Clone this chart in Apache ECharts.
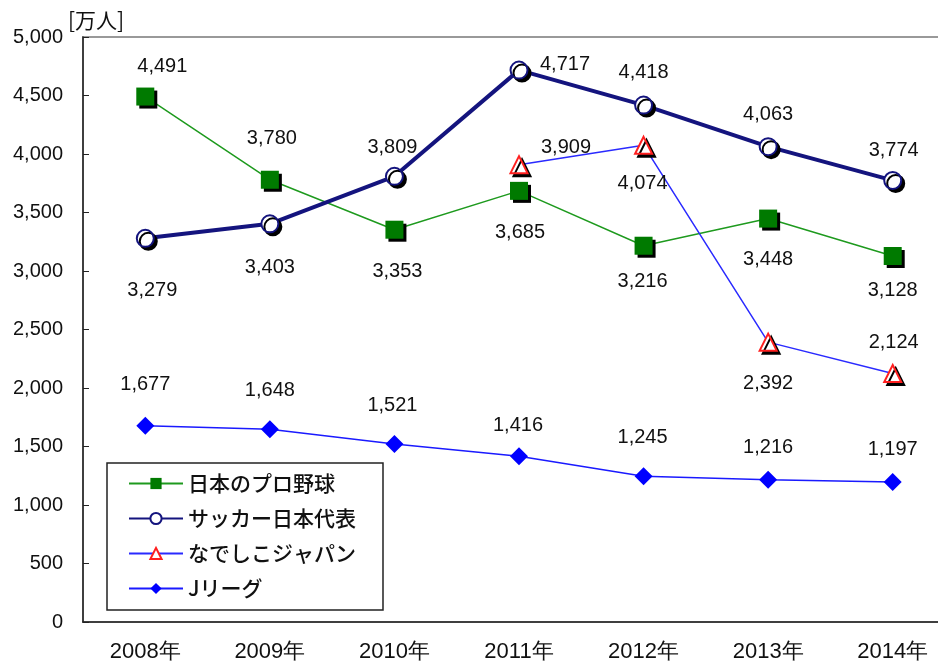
<!DOCTYPE html>
<html>
<head>
<meta charset="utf-8">
<script src="https://cdn.jsdelivr.net/npm/echarts@6/dist/echarts.min.js"></script>
<style>
  html, body { margin: 0; padding: 0; background: #fff; }
  #chart { width: 938px; height: 665px; }
</style>
</head>
<body>
<div id="chart"></div>
<script>
// 年
var years = ['2008年', '2009年', '2010年', '2011年', '2012年', '2013年', '2014年']
// 各系列の値（万人）
var baseball = [4491, 3780, 3353, 3685, 3216, 3448, 3128]
var soccerJapan = [3279, 3403, 3809, 4717, 4418, 4063, 3774]
var nadeshiko = [null, null, null, 3909, 4074, 2392, 2124]
var jleague = [1677, 1648, 1521, 1416, 1245, 1216, 1197]
var seriesNames = ['日本のプロ野球', 'サッカー日本代表', 'なでしこジャパン', 'Jリーグ']

// ラベルのずれ [dx, dy]
var baseballOff = [[17, -30], [2, -41], [3, 42], [1, 42], [-1, 36], [0, 41], [0, 34]]
var soccerOff = [[7, 52], [0, 44], [-2, -29], [46, -6], [0, -33], [0, -32], [1, -30]]
var nadeshikoOff = [null, null, null, [47, -17], [-1, 38], [0, 41], [1, -31]]
var jleagueOff = [[0, -41], [0, -39], [-2, -39], [-1, -31], [-1, -39], [0, -32], [0, -32]]

var chart = echarts.init(document.getElementById('chart'))

function fmt(v) {
  return String(v).replace(/\B(?=(\d{3})+(?!\d))/g, ',')
}

function withLabels(values, offs) {
  return values.map(function (v, i) {
    if (v == null) return '-'
    return { value: v, label: { offset: offs[i] } }
  })
}

var font = 'Liberation Sans, Arial, sans-serif'
var labelBase = {
  show: true,
  position: 'inside',
  color: '#111',
  fontSize: 20,
  fontFamily: font,
  formatter: function (p) { return fmt(p.value) }
}
var shadow = { shadowColor: '#000', shadowOffsetX: 3, shadowOffsetY: 3, shadowBlur: 0 }

var option = {
  animation: false,
  backgroundColor: '#fff',
  title: {
    text: '[万人]',
    left: 63,
    top: 5,
    textStyle: { fontSize: 21, fontWeight: 'normal', color: '#111', fontFamily: 'Noto Sans CJK JP' }
  },
  grid: {
    left: 83, top: 37, width: 872, bottom: 43,
    outerBoundsMode: 'none',
    containLabel: false,
    show: true, borderColor: '#999', borderWidth: 2, backgroundColor: 'transparent'
  },
  legend: {
    orient: 'vertical',
    left: 107, top: 463,
    padding: [10, 27, 11, 21],
    borderColor: '#222', borderWidth: 1.5,
    itemWidth: 54, itemHeight: 14, itemGap: 14,
    backgroundColor: '#fff',
    textStyle: { fontSize: 21, color: '#111', fontFamily: 'Noto Sans CJK JP', fontWeight: 500 },
    data: seriesNames
  },
  xAxis: {
    type: 'category',
    data: years,
    boundaryGap: true,
    axisLine: { lineStyle: { color: '#222', width: 1.5 } },
    axisTick: { inside: true, length: 6, lineStyle: { color: '#222' } },
    axisLabel: { color: '#111', fontSize: 22, margin: 19, fontFamily: 'Liberation Sans Narrow, Liberation Sans, sans-serif' }
  },
  yAxis: {
    type: 'value',
    min: 0, max: 5000, interval: 500,
    splitLine: { show: false },
    axisLine: { show: true, lineStyle: { color: '#222', width: 1.5 } },
    axisTick: { show: true, inside: true, length: 6, lineStyle: { color: '#222' } },
    axisLabel: { color: '#111', fontSize: 20, margin: 20, fontFamily: font, formatter: fmt }
  },
  series: [
    {
      name: seriesNames[0], type: 'line',
      data: withLabels(baseball, baseballOff),
      symbol: 'rect', symbolSize: 18,
      lineStyle: { color: '#1e9a1e', width: 1.5 },
      itemStyle: Object.assign({ color: '#007a00', borderWidth: 0 }, shadow),
      label: labelBase, z: 3
    },
    {
      name: seriesNames[1], type: 'line',
      data: withLabels(soccerJapan, soccerOff),
      symbol: 'circle', symbolSize: 17,
      lineStyle: { color: '#14147e', width: 4 },
      itemStyle: Object.assign({ color: '#fff', borderColor: '#14147e', borderWidth: 2 }, shadow),
      label: labelBase, z: 4
    },
    {
      name: seriesNames[2], type: 'line',
      data: withLabels(nadeshiko, nadeshikoOff),
      symbol: 'triangle', symbolSize: 17,
      lineStyle: { color: '#2a2aff', width: 1.5 },
      itemStyle: Object.assign({ color: '#fff', borderColor: '#ff2020', borderWidth: 2 }, shadow),
      label: labelBase, z: 5
    },
    {
      name: seriesNames[3], type: 'line',
      data: withLabels(jleague, jleagueOff),
      symbol: 'diamond', symbolSize: 18,
      lineStyle: { color: '#1a1aff', width: 1.5 },
      itemStyle: { color: '#0000ff' },
      label: labelBase, z: 3
    }
  ]
}

chart.setOption(option)
</script>
</body>
</html>
